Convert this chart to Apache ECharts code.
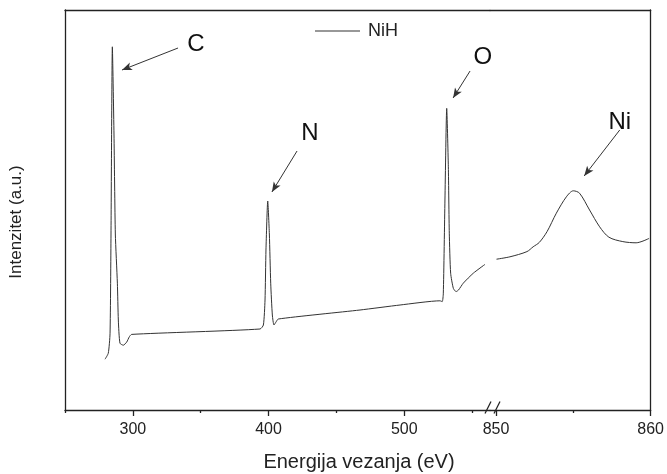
<!DOCTYPE html>
<html>
<head>
<meta charset="utf-8">
<script src="https://cdn.jsdelivr.net/npm/echarts@6/dist/echarts.min.js"></script>
<style>
  html, body { margin: 0; padding: 0; background: #fff; }
  #chart { width: 667px; height: 474px; }
</style>
</head>
<body>
<div id="chart"></div>
<script>
// XPS spektar NiH - lijevi dio (C, N, O) i desni dio (Ni 2p) nakon prekida osi
const leftEnergy = [279.5, 281.9, 283.2, 283.9, 284.9, 286.1, 287.1, 288.6, 289.3, 290.5, 293.0, 295.5, 297.4, 299.1,
  393.7, 396.2, 397.4, 398.1, 399.4, 400.6, 401.6, 402.8, 404.0, 405.5, 407.2,
  467.4, 496.9, 526.3, 528.0, 528.8, 530.0, 531.3, 532.5, 533.2, 534.2, 536.2, 538.2, 540.0, 543.5, 550.9, 559.5];
const leftIntensity = [12.7, 14.2, 19.2, 44, 90.8, 69, 44, 31.7, 22.5, 16.7, 16.2, 17, 18.3, 18.9,
  20.25, 21.25, 27.5, 40, 52.25, 44, 31.7, 23.75, 21.25, 22, 22.75,
  25, 26.25, 27.3, 27.1, 29.2, 52.5, 75.4, 60.8, 44.2, 34.2, 30.4, 29.6, 30, 31.7, 34.2, 36.4];

const rightEnergy = [850.03, 850.9, 852.0, 852.4, 852.8, 853.3, 853.9, 854.55, 855.0, 855.4, 856.05, 856.7, 857.3, 858.2, 859.06, 859.9];
const rightIntensity = [37.7, 38.3, 39.6, 40.8, 41.9, 44.6, 49.2, 53.3, 54.8, 54.2, 50, 45.8, 43.2, 42.1, 41.8, 42.9];

const leftMajorTicks = [300, 400, 500];
const leftMinorTicks = [250, 350, 450, 550];
const rightMajorTicks = [850, 860];
const rightMinorTicks = [855];

// oznake pikova: [naziv, x teksta, y teksta, x od, y od, x do, y do]
const peakLabels = [
  ['C', 346.5, 91.5, 333.3, 90.5, 292, 85],
  ['N', 430.5, 69.25, 421, 64.75, 402.5, 54.5],
  ['O', 558, 88.25, 548.5, 84.75, 536, 78]
];
const niLabel = ['Ni', 858.0, 72, 858.0, 70, 855.7, 58.5];

const axisColor = '#222';
const lineColor = '#333';
const font = '"Liberation Sans", Arial, sans-serif';

const chart = echarts.init(document.getElementById('chart'));

const makePair = (xs, ys) => xs.map((x, i) => [x, ys[i]]);

const markersFor = (labels) => ({
  markPoint: {
    symbol: 'circle',
    symbolSize: 0,
    silent: true,
    label: {show: true, position: 'inside', formatter: '{b}', fontSize: 24, color: '#111', fontFamily: font},
    data: labels.map(l => ({name: l[0], coord: [l[1], l[2]]}))
  },
  markLine: {
    symbol: ['none', 'arrow'],
    symbolSize: [6, 10],
    silent: true,
    label: {show: false},
    lineStyle: {color: lineColor, width: 1, type: 'solid'},
    data: labels.map(l => [{coord: [l[3], l[4]]}, {coord: [l[5], l[6]]}])
  }
});

const bottomMajor = (grid, min, max, ticks) => ({
  gridIndex: grid, type: 'value', min, max, position: 'bottom',
  axisLine: {show: true, lineStyle: {color: axisColor, width: 1.3}},
  axisTick: {show: true, customValues: ticks, length: 6, lineStyle: {color: axisColor, width: 1.3}},
  axisLabel: {show: true, customValues: ticks, margin: 12, fontSize: 16, color: axisColor, fontFamily: font},
  splitLine: {show: false}
});
const bottomMinor = (grid, min, max, ticks) => ({
  gridIndex: grid, type: 'value', min, max, position: 'bottom',
  axisLine: {show: false},
  axisTick: {show: true, customValues: ticks, length: 3, lineStyle: {color: axisColor, width: 1.3}},
  axisLabel: {show: false},
  splitLine: {show: false}
});
const topLine = (grid, min, max) => ({
  gridIndex: grid, type: 'value', min, max, position: 'top',
  axisLine: {show: true, lineStyle: {color: axisColor, width: 1.3}},
  axisTick: {show: false}, axisLabel: {show: false}, splitLine: {show: false}
});

const option = {
  animation: false,
  backgroundColor: '#fff',
  legend: {
    data: ['NiH'],
    left: 315,
    top: 22,
    padding: 0,
    icon: 'rect',
    itemWidth: 45,
    itemHeight: 1,
    textStyle: {fontSize: 18, color: axisColor, fontFamily: font, padding: [0, 0, 0, 3]}
  },
  grid: [
    {left: 65, top: 10, width: 425, height: 400},
    {left: 490, top: 10, width: 161, height: 400}
  ],
  xAxis: [
    bottomMajor(0, 250, 563.2, leftMajorTicks),
    bottomMinor(0, 250, 563.2, leftMinorTicks),
    topLine(0, 250, 563.2),
    bottomMajor(1, 849.61, 860, rightMajorTicks),
    bottomMinor(1, 849.61, 860, rightMinorTicks),
    topLine(1, 849.61, 860)
  ],
  yAxis: [
    {
      gridIndex: 0, type: 'value', min: 0, max: 100,
      name: 'Intenzitet (a.u.)', nameLocation: 'middle', nameGap: 40, nameRotate: 90,
      nameTextStyle: {fontSize: 17, color: axisColor, fontFamily: font, padding: [0, 24, 0, 0]},
      axisLine: {show: true, lineStyle: {color: axisColor, width: 1.3}},
      axisTick: {show: false}, axisLabel: {show: false}, splitLine: {show: false}
    },
    {
      gridIndex: 1, type: 'value', min: 0, max: 100, position: 'right',
      axisLine: {show: true, lineStyle: {color: axisColor, width: 1.3}},
      axisTick: {show: false}, axisLabel: {show: false}, splitLine: {show: false}
    }
  ],
  graphic: [
    {type: 'text', x: 359, y: 462, style: {text: 'Energija vezanja (eV)', fontSize: 20, fill: axisColor, fontFamily: font, textAlign: 'center', textVerticalAlign: 'middle'}},
    {type: 'line', shape: {x1: 485, y1: 413.5, x2: 491, y2: 401.5}, style: {stroke: axisColor, lineWidth: 1.3}},
    {type: 'line', shape: {x1: 494, y1: 413.5, x2: 500, y2: 401.5}, style: {stroke: axisColor, lineWidth: 1.3}}
  ],
  series: [
    Object.assign({
      name: 'NiH', type: 'line', xAxisIndex: 0, yAxisIndex: 0,
      data: makePair(leftEnergy, leftIntensity),
      symbol: 'none', smooth: 0.2,
      lineStyle: {color: lineColor, width: 1}, itemStyle: {color: lineColor}
    }, markersFor(peakLabels)),
    Object.assign({
      name: 'NiH', type: 'line', xAxisIndex: 3, yAxisIndex: 1,
      data: makePair(rightEnergy, rightIntensity),
      symbol: 'none', smooth: 0.3,
      lineStyle: {color: lineColor, width: 1}, itemStyle: {color: lineColor}
    }, markersFor([niLabel]))
  ]
};

chart.setOption(option);
</script>
</body>
</html>
